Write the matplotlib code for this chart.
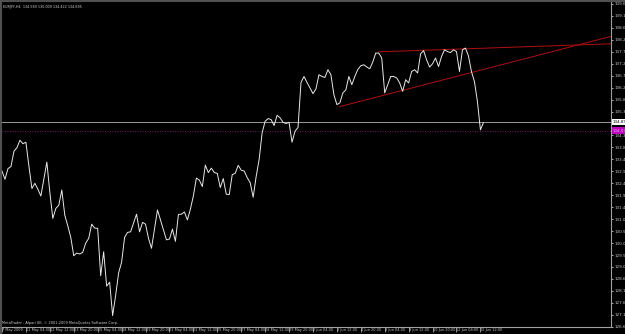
import numpy as np
import matplotlib
matplotlib.use("Agg")
import matplotlib.pyplot as plt
from matplotlib.lines import Line2D

# ---- data (H4 closes, EURJPY) ----
closes = [
    132.94, 132.61, 133.04, 133.12, 133.74, 133.88, 134.18, 134.04, 134.10, 133.14,
    132.24, 132.45, 132.21, 131.94, 132.61, 133.30, 132.08, 131.04, 131.44, 131.57,
    132.18, 131.17, 130.74, 130.28, 129.54, 129.65, 129.61, 129.68, 130.05, 130.24,
    130.81, 130.65, 130.64, 128.74, 129.70, 128.32, 128.48, 127.14, 127.94, 128.85,
    129.28, 130.28, 130.48, 130.50, 130.85, 131.21, 130.50, 130.88, 130.81, 130.24,
    129.84, 130.61, 131.38, 130.98, 130.58, 130.18, 130.21, 130.61, 130.12, 131.20,
    131.21, 131.30, 130.98, 131.41, 131.94, 132.66, 132.58, 132.32, 133.18, 132.88,
    133.06, 132.88, 132.85, 132.28, 132.64, 132.01, 132.00, 132.80, 132.85, 133.17,
    132.98, 132.94, 132.68, 132.48, 131.89, 132.72, 133.41, 134.48, 134.94, 135.05,
    135.01, 134.77, 135.18, 135.08, 134.90, 134.85, 134.90, 134.10, 134.54, 134.69,
    136.50, 136.74, 136.50, 136.28, 136.05, 136.24, 136.81, 136.74, 136.70, 137.01,
    136.81, 136.01, 135.61, 135.68, 136.08, 136.20, 136.74, 136.41, 136.74, 137.02,
    137.17, 137.21, 137.12, 137.05, 137.32, 137.68, 137.68, 137.48, 136.08, 136.41,
    136.74, 136.74, 136.68, 136.48, 136.14, 136.61, 136.48, 136.94, 137.01, 136.88,
    137.65, 137.78, 137.41, 137.12, 137.25, 137.48, 137.14, 137.54, 137.81, 137.74,
    137.70, 137.81, 137.74, 136.94, 137.81, 137.88, 137.57, 136.94, 136.54, 135.74,
    134.60, 134.88,
]

time_labels = [
    "7 May 2009", "11 May 04:00", "12 May 12:00", "13 May 20:00", "15 May 04:00",
    "18 May 12:00", "19 May 20:00", "21 May 04:00", "22 May 12:00", "25 May 20:00",
    "27 May 04:00", "28 May 12:00", "29 May 20:00", "2 Jun 04:00", "3 Jun 12:00",
    "4 Jun 20:00", "8 Jun 04:00", "9 Jun 12:00", "10 Jun 20:00", "12 Jun 04:00",
    "15 Jun 12:00",
]
bars_per_label = 8

price_ticks = [round(139.65 - 0.48 * k, 3) for k in range(28)]

# trendlines: two anchor points each (bar index, price)
trend_a = [(126, 137.73), (155, 137.85)]
trend_b = [(113, 135.53), (150, 136.68)]

bid_price = 134.895
hline_price = 134.570
title_text = "EURJPY,H4  134.589 135.009 134.422 134.895"
credit_text = "MetaTrader - Alpari UK, \u00a9 2001-2009 MetaQuotes Software Corp."

# ---- figure ----
W, H = 625, 334
fig = plt.figure(figsize=(W / 100, H / 100), dpi=100, facecolor="black")
ax_l, ax_r, ax_t, ax_b = 2, 611, 2, 327
ax = fig.add_axes([ax_l / W, (H - ax_b) / H, (ax_r - ax_l) / W, (ax_b - ax_t) / H])
ax.set_facecolor("black")

px_per_bar = 2.99
x_max = (ax_r - ax_l) / px_per_bar
ax.set_xlim(0, x_max)
ax.set_ylim(126.68, 139.73)

x = np.arange(len(closes))
ax.plot(x, closes, color="#e8e8e8", lw=0.7, zorder=4)

# trend rays
for (x1, p1), (x2, p2) in (trend_a, trend_b):
    slope = (p2 - p1) / (x2 - x1)
    ax.plot([x1, x_max + 5], [p1, p1 + slope * (x_max + 5 - x1)],
            color="#b01010", lw=0.7, zorder=3, clip_on=True)

# bid line and dotted horizontal line
ax.axhline(bid_price, color="#9a9a9a", lw=0.7, zorder=2)
ax.axhline(hline_price, color="#a020a0", lw=0.6, ls=(0, (1, 2)), zorder=2)

# spines
for s in ("left", "top"):
    ax.spines[s].set_visible(False)
for s in ("right", "bottom"):
    ax.spines[s].set_color("#a0a0a0")
    ax.spines[s].set_linewidth(0.8)

# price axis
ax.yaxis.tick_right()
ax.set_yticks(price_ticks)
ax.set_yticklabels([f"{p:.3f}" for p in price_ticks])
ax.tick_params(axis="y", colors="#c8c8c8", labelsize=3.0, length=1.5, width=0.6, pad=0.8)

# time axis
ax.set_xticks([bars_per_label * i for i in range(len(time_labels))])
ax.set_xticklabels(time_labels, ha="left")
ax.tick_params(axis="x", colors="#c8c8c8", labelsize=2.5, length=3.5, width=0.5, pad=-2.8)
for lbl in ax.get_xticklabels():
    lbl.set_x(lbl.get_position()[0])

# price boxes
ax.text(1.003, bid_price, f"{bid_price:.3f}", transform=ax.get_yaxis_transform(),
        fontsize=3.0, color="black", va="center", ha="left",
        bbox=dict(boxstyle="square,pad=0.25", fc="white", ec="none"), zorder=6, clip_on=False)
ax.text(1.003, hline_price, f"{hline_price:.3f}", transform=ax.get_yaxis_transform(),
        fontsize=3.0, color="#e0b0e0", va="center", ha="left",
        bbox=dict(boxstyle="square,pad=0.25", fc="#c000c0", ec="none"), zorder=6, clip_on=False)

# texts
fig.text(3 / W, 1 - 7 / H, title_text, fontsize=2.4, color="#d0d0d0", va="center", ha="left")
fig.text(2 / W, 1 - 323 / H, credit_text, fontsize=2.5, color="#d0d0d0", va="center", ha="left")

# window frame (left and top)
fig.add_artist(Line2D([0.5 / W, 0.5 / W], [0, 1], color="#505050", lw=1.5, transform=fig.transFigure))
fig.add_artist(Line2D([0, 1], [1 - 0.5 / H, 1 - 0.5 / H], color="#505050", lw=1.5, transform=fig.transFigure))

fig.savefig("out.png", dpi=100, facecolor="black")
